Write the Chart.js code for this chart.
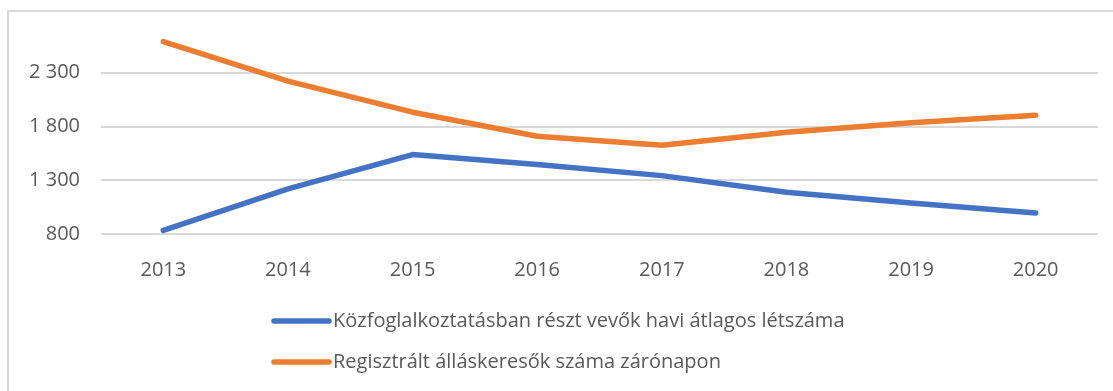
<!DOCTYPE html>
<html>
<head>
<meta charset="utf-8">
<script src="https://cdn.jsdelivr.net/npm/chart.js@4.4.1/dist/chart.umd.min.js"></script>
<style>
  html, body { margin: 0; padding: 0; background: #fff; overflow: hidden; }
  #wrap { position: relative; width: 1113px; height: 391px; }
  #frame {
    position: absolute; left: 7px; top: 10px; width: 1200px; height: 500px;
    border-top: 2px solid #d9d9d9; border-left: 2px solid #d9d9d9;
  }
  #chartBox { position: absolute; left: 0; top: 0; width: 1113px; height: 391px; }
</style>
</head>
<body>
<div id="wrap">
  <div id="frame"></div>
  <div id="chartBox"><canvas id="myChart"></canvas></div>
</div>
<script>
// Years on the horizontal axis
const years = ['2013', '2014', '2015', '2016', '2017', '2018', '2019', '2020'];

// Series values
const kozfoglalkoztatas = [834, 1219, 1539, 1446, 1343, 1188, 1089, 996];
const allaskeresok = [2590, 2222, 1933, 1709, 1625, 1747, 1834, 1905];

// Series names
const seriesNames = [
  'Közfoglalkoztatásban részt vevők havi átlagos létszáma',
  'Regisztrált álláskeresők száma zárónapon'
];

// Y axis ticks
const yMin = 800;
const yMax = 2800;
const yStep = 500;

const textColor = '#595959';
const fontFamily = '"Open Sans", "Noto Sans", sans-serif';

// Thousands separated by a space: 2 300
function formatNumber(v) {
  return String(v).replace(/\B(?=(\d{3})+(?!\d))/g, ' ');
}

// Legend stacked under the axis, items left aligned
const stackedLegend = {
  id: 'stackedLegend',
  afterDraw(chart) {
    const ctx = chart.ctx;
    const rows = [321, 362];
    ctx.save();
    chart.data.datasets.forEach((ds, i) => {
      const y = rows[i];
      ctx.strokeStyle = ds.borderColor;
      ctx.lineWidth = 5.5;
      ctx.lineCap = 'round';
      ctx.beginPath();
      ctx.moveTo(274, y);
      ctx.lineTo(329, y);
      ctx.stroke();
      ctx.fillStyle = textColor;
      ctx.font = '20px ' + fontFamily;
      ctx.textAlign = 'left';
      ctx.textBaseline = 'middle';
      ctx.fillText(ds.label, 333, y);
    });
    ctx.restore();
  }
};

document.addEventListener('DOMContentLoaded', () => {
  Chart.defaults.font.family = fontFamily;
  Chart.defaults.font.size = 20;
  Chart.defaults.color = textColor;

  const ctx = document.getElementById('myChart').getContext('2d');
  new Chart(ctx, {
    type: 'line',
    data: {
      labels: years,
      datasets: [
        {
          label: seriesNames[0],
          data: kozfoglalkoztatas,
          borderColor: '#4472c4',
          backgroundColor: '#4472c4',
          borderWidth: 5.5,
          borderCapStyle: 'round',
          borderJoinStyle: 'round',
          pointRadius: 0,
          tension: 0
        },
        {
          label: seriesNames[1],
          data: allaskeresok,
          borderColor: '#ed7d31',
          backgroundColor: '#ed7d31',
          borderWidth: 5.5,
          borderCapStyle: 'round',
          borderJoinStyle: 'round',
          pointRadius: 0,
          tension: 0
        }
      ]
    },
    options: {
      responsive: true,
      maintainAspectRatio: false,
      animation: false,
      layout: { padding: { top: 19, right: 15, bottom: 97, left: 0 } },
      plugins: {
        legend: { display: false },
        tooltip: { enabled: false }
      },
      scales: {
        x: {
          offset: true,
          grid: { display: false },
          border: { display: false },
          ticks: { padding: 16, maxRotation: 0 },
          afterFit: (scale) => { scale.height = 60; }
        },
        y: {
          min: yMin,
          max: yMax,
          border: { display: false },
          grid: { color: '#d9d9d9', lineWidth: 2, drawTicks: false },
          ticks: {
            stepSize: yStep,
            padding: 21,
            callback: (v) => formatNumber(v)
          },
          // no gridline or label at the top of the range
          afterBuildTicks: (scale) => {
            scale.ticks = scale.ticks.filter((t) => t.value < yMax);
          },
          afterFit: (scale) => {
            scale.width = 101;
            scale.paddingTop = 0;
            scale.paddingBottom = 0;
          }
        }
      }
    },
    plugins: [stackedLegend]
  });
});
</script>
</body>
</html>
